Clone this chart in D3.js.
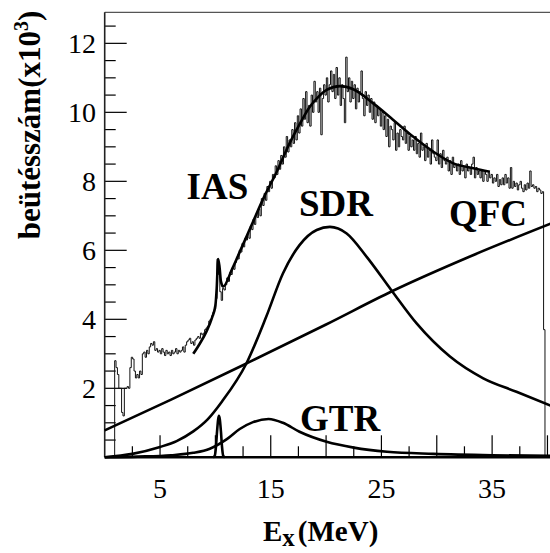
<!DOCTYPE html>
<html>
<head>
<meta charset="utf-8">
<script src="https://cdn.jsdelivr.net/npm/d3@7"></script>
<style>
  body { margin: 0; background: #fff; }
  svg { display: block; }
  text { font-family: "Liberation Serif", "Times New Roman", serif; }
</style>
</head>
<body>
<div id="chart"></div>
<script>
// measured spectrum, 0.125 MeV bins starting at 0.9 MeV (counts x10^3), one row = 1 MeV
const histStart = 0.9;
const binWidth = 0.125;
const histValues = [
  2.8, 2.6, 2.4, 2.0, 2.0, 1.3, 1.2, 2.0,
  2.0, 2.05, 2.0, 2.6, 2.9, 2.85, 2.5, 2.3,
  2.4, 2.3, 2.5, 2.4, 3.0, 3.05, 2.9, 3.1,
  3.0, 3.2, 3.3, 3.25, 3.35, 3.1, 3.15, 3.05,
  3.1, 3.0, 3.15, 3.05, 2.95, 3.1, 3.0, 3.05,
  2.95, 3.1, 3.0, 3.05, 3.15, 3.0, 3.1, 3.05,
  3.1, 3.2, 3.05, 3.25, 3.35, 3.4, 3.45, 3.3,
  3.35, 3.25, 3.4, 3.45, 3.5, 3.45, 3.6, 3.55,
  3.6, 3.7, 3.75, 3.8, 3.95, 4.0, 4.1, 4.2,
  4.3, 4.6, 5.75, 5.3, 4.8, 4.55, 4.9, 4.85,
  5.0, 5.2, 5.1, 5.35, 5.3, 5.5, 5.45, 5.65,
  5.8, 5.75, 6.0, 5.95, 6.2, 6.1, 6.35, 6.3,
  6.5, 6.35, 6.7, 6.6, 6.9, 6.75, 7.05, 6.95,
  7.2, 7.0, 7.5, 7.3, 7.65, 7.45, 7.85, 7.7,
  8.0, 7.8, 8.2, 8.1, 8.45, 8.2, 8.6, 8.35,
  8.75, 8.5, 9.0, 8.7, 9.3, 8.85, 9.2, 9.0,
  9.5, 9.1, 9.7, 9.2, 9.9, 9.4, 10.1, 9.6,
  10.4, 9.8, 10.6, 9.7, 10.2, 9.6, 10.5, 10.0,
  10.9, 10.3, 10.6, 10.0, 10.7, 9.35, 10.4, 10.8,
  10.5, 11.0, 10.3, 10.8, 11.2, 10.6, 11.1, 10.4,
  11.3, 10.5, 11.0, 10.2, 10.8, 10.4, 9.7, 11.6,
  10.6, 11.0, 10.3, 10.9, 10.4, 10.8, 10.1, 10.7,
  10.3, 10.6, 11.2, 10.4, 9.9, 10.6, 10.2, 10.5,
  10.0, 10.4, 9.8, 10.3, 9.7, 10.2, 9.9, 10.1,
  9.6, 10.0, 9.5, 9.9, 9.3, 9.8, 9.0, 9.6,
  9.5, 9.2, 9.7, 8.9, 9.4, 9.0, 9.5, 9.3,
  9.2, 9.6, 9.1, 9.4, 8.9, 9.3, 9.0, 9.2,
  8.9, 9.3, 8.8, 9.1, 8.7, 9.4, 8.9, 9.0,
  8.6, 9.1, 8.7, 8.9, 8.5, 9.2, 8.8, 8.7,
  8.6, 9.2, 8.5, 8.8, 8.4, 8.9, 8.6, 8.5,
  8.7, 8.3, 8.6, 8.2, 8.7, 8.4, 8.5, 8.3,
  8.5, 8.2, 8.6, 8.3, 8.4, 8.1, 8.5, 8.3,
  8.4, 8.2, 8.5, 8.7, 8.1, 8.4, 8.2, 8.3,
  8.1, 8.3, 8.0, 8.3, 8.2, 8.0, 8.25, 8.1,
  8.2, 7.95, 8.1, 8.0, 8.2, 7.85, 8.05, 7.9,
  8.1, 7.9, 8.2, 7.95, 8.1, 7.8, 8.4, 7.8,
  8.0, 7.85, 7.95, 7.75, 7.9, 8.0, 7.8, 7.7,
  7.9, 7.75, 7.95, 7.8, 8.3, 7.85, 7.9, 7.8,
  7.85, 7.7, 7.8, 7.75, 7.65, 7.7, 3.7
];

// fitted components [E (MeV), counts x10^3]
const totalFit = [
  [8.0, 3.0], [8.6, 3.3], [9.2, 3.65], [9.7, 4.05], [10.0, 4.4], [10.12, 4.9],
  [10.25, 5.75], [10.38, 5.5], [10.5, 5.1], [10.7, 4.95], [11.5, 5.45], [12.4, 6.1],
  [13.4, 6.83], [14.4, 7.55], [15.5, 8.25], [16.7, 9.1], [17.6, 9.65], [18.5, 10.15],
  [19.3, 10.45], [20.05, 10.65], [21.25, 10.76], [22.46, 10.67], [24.26, 10.26],
  [26.07, 9.78], [27.88, 9.29], [29.68, 8.86], [31.5, 8.52], [33.3, 8.38], [34.8, 8.28]
];
const qfc = [[0, 0.78], [6, 1.67], [13, 2.75], [20, 3.85], [26, 4.82], [33, 5.82], [40.5, 6.8]];
const sdr = [
  [0, 0.0], [2.5, 0.1], [5, 0.3], [6.5, 0.47], [8, 0.75], [9.3, 1.1], [10.6, 1.62],
  [12.8, 2.72], [14.6, 4.08], [16.1, 5.33], [17.6, 6.15], [19.15, 6.59], [20.35, 6.68],
  [21.86, 6.49], [23.67, 5.81], [25.93, 4.83], [28.18, 3.88], [31.19, 2.92], [34.2, 2.29],
  [37.2, 1.9], [40.5, 1.47]
];
const gtr = [
  [0, 0.0], [3, 0.02], [6, 0.06], [8, 0.13], [9.5, 0.25], [11, 0.52], [12.2, 0.82],
  [13.4, 1.02], [14.8, 1.11], [16.1, 1.0], [17.6, 0.74], [20.05, 0.45], [22.5, 0.28],
  [25.5, 0.16], [29.7, 0.1], [35, 0.06], [40.5, 0.04]
];
const ias = [
  [9.8, 0], [9.95, 0.05], [10.05, 0.3], [10.15, 0.75], [10.25, 1.1], [10.32, 1.2],
  [10.4, 1.1], [10.5, 0.75], [10.6, 0.3], [10.7, 0.05], [10.85, 0]
];

const xLabels = [5, 15, 25, 35];
const yLabels = [2, 4, 6, 8, 10, 12];
const peakLabels = [
  { text: 'IAS', E: 7.4, v: 7.5 },
  { text: 'SDR', E: 17.55, v: 7.0 },
  { text: 'QFC', E: 31.1, v: 6.7 },
  { text: 'GTR', E: 17.65, v: 0.75 }
];

const W = 550;
const H = 553;

const x = d3.scaleLinear().domain([0, 40.5]).range([104.7, 553]);
const y = d3.scaleLinear().domain([0, 12.9]).range([457.3, 12.3]);

const svg = d3.select('#chart').append('svg')
  .attr('width', W)
  .attr('height', H);

// ticks (inside the frame)
const tickG = svg.append('g').attr('stroke', '#000').attr('stroke-width', 1.2);
d3.range(0.5, 12.9, 0.5).forEach((v) => {
  const major = Math.abs(v % 2) < 1e-9;
  tickG.append('line')
    .attr('x1', x(0)).attr('x2', x(0) + (major ? 22 : 11))
    .attr('y1', y(v)).attr('y2', y(v));
});
d3.range(2.5, 40.5, 2.5).forEach((e) => {
  const major = Math.abs(e % 5) < 1e-9;
  tickG.append('line')
    .attr('x1', x(e)).attr('x2', x(e))
    .attr('y1', y(0)).attr('y2', y(0) - (major ? 22 : 11));
});

// frame
svg.append('line').attr('x1', x(0)).attr('x2', 553).attr('y1', y(12.9)).attr('y2', y(12.9))
  .attr('stroke', '#555').attr('stroke-width', 1.2);
svg.append('line').attr('x1', x(0)).attr('x2', x(0)).attr('y1', y(12.9)).attr('y2', y(0))
  .attr('stroke', '#222').attr('stroke-width', 1.6);

// histogram
const histPts = [[histStart, 0]];
histValues.forEach((v, i) => {
  histPts.push([histStart + i * binWidth, v]);
  histPts.push([histStart + (i + 1) * binWidth, v]);
});
histPts.push([histStart + histValues.length * binWidth, 0]);
svg.append('path')
  .datum(histPts)
  .attr('d', d3.line().x((d) => x(d[0])).y((d) => y(d[1])))
  .attr('fill', 'none')
  .attr('stroke', '#111')
  .attr('stroke-width', 1);

// fit curves
const smooth = d3.line().x((d) => x(d[0])).y((d) => y(d[1])).curve(d3.curveMonotoneX);
[qfc, sdr, gtr, ias, totalFit].forEach((c) => {
  svg.append('path')
    .datum(c)
    .attr('d', smooth)
    .attr('fill', 'none')
    .attr('stroke', '#000')
    .attr('stroke-width', 2.6);
});

// bottom axis line
svg.append('line').attr('x1', x(0)).attr('x2', 553).attr('y1', y(0)).attr('y2', y(0))
  .attr('stroke', '#000').attr('stroke-width', 2.4);

// tick labels
svg.append('g').selectAll('text').data(yLabels).join('text')
  .attr('x', 96)
  .attr('y', (d) => y(d) + 9.5)
  .attr('text-anchor', 'end')
  .attr('font-size', 28)
  .text((d) => d);
svg.append('g').selectAll('text').data(xLabels).join('text')
  .attr('x', (d) => x(d))
  .attr('y', 498)
  .attr('text-anchor', 'middle')
  .attr('font-size', 28)
  .text((d) => d);

// peak labels
svg.append('g').selectAll('text').data(peakLabels).join('text')
  .attr('x', (d) => x(d.E))
  .attr('y', (d) => y(d.v))
  .attr('font-size', 37)
  .attr('font-weight', 'bold')
  .text((d) => d.text);

// axis titles
const xt = svg.append('text')
  .attr('x', 263)
  .attr('y', 541)
  .attr('font-size', 29)
  .attr('font-weight', 'bold');
xt.append('tspan').text('E');
xt.append('tspan').attr('font-size', 25).attr('dy', 5).text('x');
xt.append('tspan').attr('dy', -5).attr('dx', 3).text('(MeV)');

const yt = svg.append('text')
  .attr('transform', 'translate(40,125) rotate(-90)')
  .attr('text-anchor', 'middle')
  .attr('font-size', 31)
  .attr('font-weight', 'bold');
yt.append('tspan').text('beütésszám(x10');
yt.append('tspan').attr('font-size', 20).attr('dy', -12).text('3');
yt.append('tspan').attr('dy', 12).text(')');
</script>
</body>
</html>
